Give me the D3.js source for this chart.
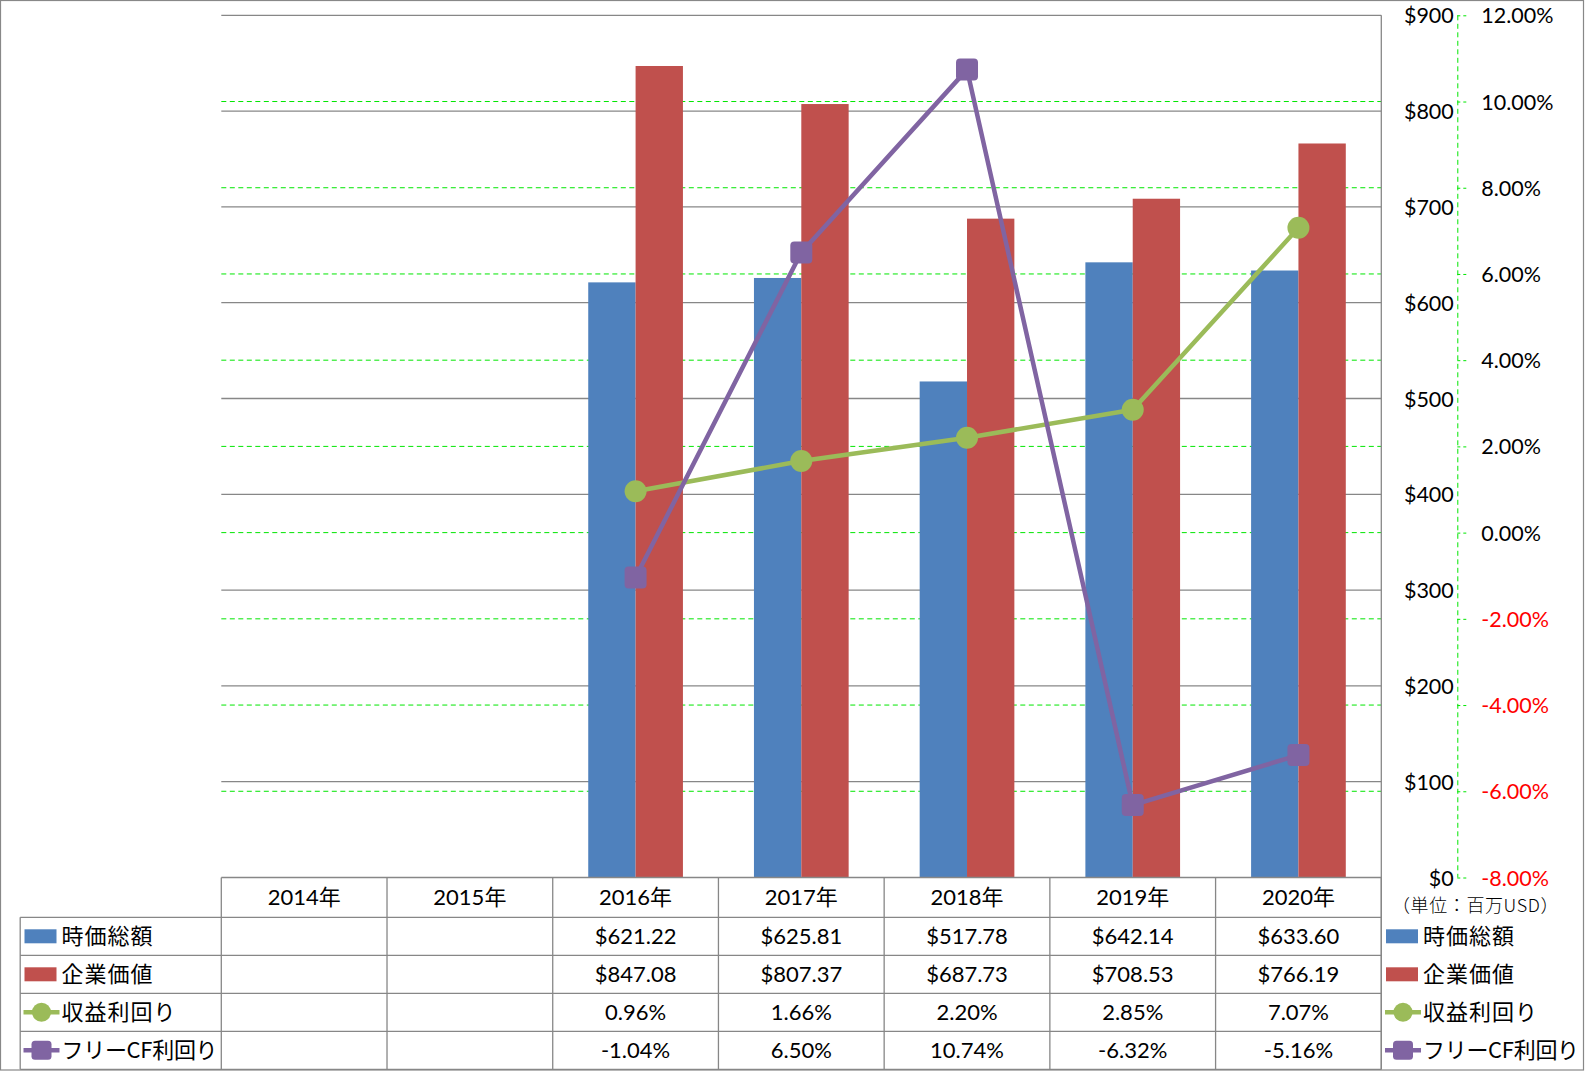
<!DOCTYPE html>
<html><head><meta charset="utf-8">
<script src="https://cdn.jsdelivr.net/npm/d3@7"></script>
<style>
html,body{margin:0;padding:0;background:#fff;}
svg{display:block;}
</style></head>
<body>
<svg id="chart" width="1586" height="1071"></svg>
<script>
const years = ["2014年","2015年","2016年","2017年","2018年","2019年","2020年"];
const marketCap = [null,null,621.22,625.81,517.78,642.14,633.60];
const enterpriseValue = [null,null,847.08,807.37,687.73,708.53,766.19];
const earningsYield = [null,null,0.96,1.66,2.20,2.85,7.07];
const fcfYield = [null,null,-1.04,6.50,10.74,-6.32,-5.16];
const seriesNames = ["時価総額","企業価値","収益利回り","フリーCF利回り"];
const seriesColors = ["#4F81BD","#C0504D","#9BBB59","#8064A2"];
const dollarTicks = [0,100,200,300,400,500,600,700,800,900];
const pctTicks = [-8,-6,-4,-2,0,2,4,6,8,10,12];
const unitLabel = "（単位：百万USD）";

const svg = d3.select("#chart");
const L = 221.3, R = 1381.3, T = 15.3, B = 877.5;
const rowH = 38, headH = 39.8;
const legendLeft = 20.2;
const numFont = "Lato, 'Noto Sans CJK JP', sans-serif";
const jpFont = "'Noto Sans CJK JP', sans-serif";
const gridGray = "#878787";
const loc = d3.formatLocale({decimal:".", thousands:",", grouping:[3], currency:["$",""], minus:"-"});
const f2 = loc.format(".2f");

const x = d3.scaleBand().domain(years).range([L, R]).paddingInner(0).paddingOuter(0);
const groupW = x.bandwidth() / 1.75;
const xInner = d3.scaleBand().domain([0,1]).range([(x.bandwidth()-groupW)/2, (x.bandwidth()+groupW)/2]);
const yL = d3.scaleLinear().domain([0,900]).range([B, T]);
const yR = d3.scaleLinear().domain([-8,12]).range([B, T]);

// outer border
svg.append("rect").attr("x",0.5).attr("y",0.5).attr("width",1583).attr("height",1069.5)
  .attr("fill","#fff").attr("stroke","#888").attr("stroke-width",1.2);

// green dashed gridlines (percent)
svg.append("g").selectAll("line").data(pctTicks.filter(d=>d>-8 && d<12)).join("line")
  .attr("x1",L).attr("x2",R).attr("y1",d=>yR(d)).attr("y2",d=>yR(d))
  .attr("stroke","#00E600").attr("stroke-width",1).attr("stroke-dasharray","5,3.5");

// gray gridlines (dollar)
svg.append("g").selectAll("line").data(dollarTicks.filter(d=>d>0)).join("line")
  .attr("x1",L).attr("x2",R).attr("y1",d=>yL(d)).attr("y2",d=>yL(d))
  .attr("stroke",gridGray).attr("stroke-width",1.3);

// bars
const barData = [];
years.forEach((yr,i)=>{
  [marketCap[i], enterpriseValue[i]].forEach((v,k)=>{ if(v!=null) barData.push({yr,k,v}); });
});
svg.append("g").selectAll("rect").data(barData).join("rect")
  .attr("x",d=>x(d.yr)+xInner(d.k)).attr("width",xInner.bandwidth())
  .attr("y",d=>yL(d.v)).attr("height",d=>B-yL(d.v))
  .attr("fill",d=>seriesColors[d.k]);

// right plot border
svg.append("line").attr("x1",R).attr("x2",R).attr("y1",T).attr("y2",1069.5)
  .attr("stroke",gridGray).attr("stroke-width",1.3);

// lines
function drawLine(vals, color, shape){
  const pts = years.map((yr,i)=>({yr,v:vals[i]}));
  const line = d3.line().defined(d=>d.v!=null)
    .x(d=>x(d.yr)+x.bandwidth()/2).y(d=>yR(d.v));
  const g = svg.append("g");
  g.append("path").datum(pts).attr("d",line).attr("fill","none")
    .attr("stroke",color).attr("stroke-width",4.5).attr("stroke-linejoin","round");
  const valid = pts.filter(d=>d.v!=null);
  if(shape==="circle"){
    g.selectAll("circle").data(valid).join("circle")
      .attr("cx",d=>x(d.yr)+x.bandwidth()/2).attr("cy",d=>yR(d.v)).attr("r",11)
      .attr("fill",color);
  } else {
    const s = 22;
    g.selectAll("rect").data(valid).join("rect")
      .attr("x",d=>x(d.yr)+x.bandwidth()/2-s/2).attr("y",d=>yR(d.v)-s/2)
      .attr("width",s).attr("height",s).attr("rx",4).attr("fill",color);
  }
}
drawLine(earningsYield, seriesColors[2], "circle");
drawLine(fcfYield, seriesColors[3], "square");

// right percent axis (dashed green line with outward ticks)
const axR = svg.append("g").attr("transform","translate(1457.3,0)")
  .call(d3.axisRight(yR).tickValues(pctTicks).tickSize(9).tickPadding(15)
        .tickFormat(d=>f2(d)+"%"));
axR.select(".domain").attr("stroke","#00E600").attr("stroke-dasharray","5,3.5").attr("d",`M0.5,${T}V${B}`);
axR.selectAll(".tick line").attr("stroke","#00E600").attr("stroke-dasharray","3,3");
axR.selectAll(".tick text").attr("font-family",numFont).attr("font-size",21.5)
  .attr("fill",d=>d<0?"#FF0000":"#000").attr("dy","0.35em");

// dollar axis labels
const axL = svg.append("g").attr("transform","translate(1457.3,0)")
  .call(d3.axisLeft(yL).tickValues(dollarTicks).tickSize(0).tickPadding(3.5)
        .tickFormat(d=>"$"+d));
axL.select(".domain").remove();
axL.selectAll(".tick text").attr("font-family",numFont).attr("font-size",21.5)
  .attr("fill","#000").attr("dy","0.35em");

// unit label
svg.append("text").attr("x",1475.5).attr("y",906).attr("dy","0.35em")
  .attr("text-anchor","middle").attr("font-family",jpFont).attr("font-size",18)
  .attr("letter-spacing","0.6px").attr("font-weight",300).attr("fill","#000").text(unitLabel);

// data table
const tbl = svg.append("g");
const rowsY = [B, B+headH, B+headH+rowH, B+headH+2*rowH, B+headH+3*rowH, B+headH+4*rowH];
tbl.append("line").attr("x1",L).attr("x2",R).attr("y1",B).attr("y2",B)
  .attr("stroke",gridGray).attr("stroke-width",1.3);
tbl.selectAll("line.h").data(rowsY.slice(1)).join("line").attr("class","h")
  .attr("x1",legendLeft).attr("x2",R).attr("y1",d=>d).attr("y2",d=>d)
  .attr("stroke",gridGray).attr("stroke-width",1.3);
const colEdges = years.map(yr=>x(yr)).concat([R]);
tbl.selectAll("line.v").data(colEdges).join("line").attr("class","v")
  .attr("x1",d=>d).attr("x2",d=>d).attr("y1",B).attr("y2",rowsY[5])
  .attr("stroke",gridGray).attr("stroke-width",1.3);
tbl.append("line").attr("x1",legendLeft).attr("x2",legendLeft).attr("y1",rowsY[1]).attr("y2",rowsY[5])
  .attr("stroke",gridGray).attr("stroke-width",1.3);

// header years
tbl.selectAll("text.yr").data(years).join("text").attr("class","yr")
  .attr("x",d=>x(d)+x.bandwidth()/2).attr("y",(rowsY[0]+rowsY[1])/2).attr("dy","0.36em")
  .attr("text-anchor","middle").attr("font-family",numFont).attr("font-size",22)
  .attr("fill","#000").text(d=>d);

// cell values
const fmtD = v=>"$"+f2(v);
const fmtP = v=>f2(v)+"%";
const rowsData = [
  {vals:marketCap, fmt:fmtD},
  {vals:enterpriseValue, fmt:fmtD},
  {vals:earningsYield, fmt:fmtP},
  {vals:fcfYield, fmt:fmtP}
];
rowsData.forEach((row,ri)=>{
  const cy = (rowsY[ri+1]+rowsY[ri+2])/2;
  tbl.append("g").selectAll("text").data(years.map((yr,i)=>({yr,v:row.vals[i]})).filter(d=>d.v!=null))
    .join("text").attr("x",d=>x(d.yr)+x.bandwidth()/2).attr("y",cy).attr("dy","0.36em")
    .attr("text-anchor","middle").attr("font-family",numFont).attr("font-size",22)
    .attr("fill","#000").text(d=>row.fmt(d.v));
});

// legend keys (in table and at right)
function legendKey(x0, cy, idx){
  const g = svg.append("g");
  if(idx<2){
    g.append("rect").attr("x",x0).attr("y",cy-7).attr("width",32).attr("height",14)
      .attr("fill",seriesColors[idx]);
  } else {
    g.append("line").attr("x1",x0-1).attr("x2",x0+35).attr("y1",cy).attr("y2",cy)
      .attr("stroke",seriesColors[idx]).attr("stroke-width",4.5);
    if(idx===2){
      g.append("circle").attr("cx",x0+17).attr("cy",cy).attr("r",9.5).attr("fill",seriesColors[idx]);
    } else {
      g.append("rect").attr("x",x0+17-10).attr("y",cy-9.5).attr("width",20).attr("height",19)
        .attr("rx",3.5).attr("fill",seriesColors[idx]);
    }
  }
  g.append("text").attr("x",x0+37).attr("y",cy).attr("dy","0.36em")
    .attr("font-family",jpFont).attr("font-size",22).attr("letter-spacing", idx===3 ? "-0.3px" : "1px")
    .attr("fill","#000").text(seriesNames[idx]);
}
seriesNames.forEach((n,i)=>{
  const cy = (rowsY[i+1]+rowsY[i+2])/2;
  legendKey(24.5, cy, i);
  legendKey(1386, cy, i);
});
</script>
</body></html>
